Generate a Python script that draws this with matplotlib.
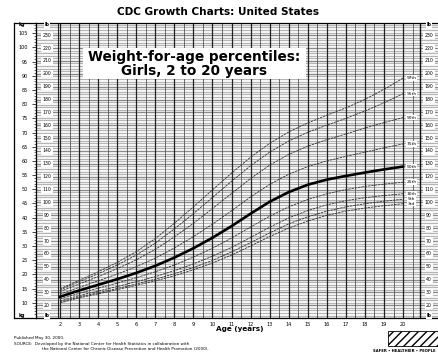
import numpy as np
import matplotlib
matplotlib.use('Agg')
import matplotlib.pyplot as plt
from matplotlib.patches import Rectangle

# CDC weight-for-age, girls 2 to 20 years (kg)
ages = [2, 3, 4, 5, 6, 7, 8, 9, 10, 11, 12, 13, 14, 15, 16, 17, 18, 19, 20]
p3 = [9.9, 11.7, 13.1, 14.6, 16.1, 17.7, 19.5, 21.6, 24.0, 26.8, 30.0, 33.3, 36.3, 38.8, 40.8, 42.3, 43.4, 44.2, 44.9]
p5 = [10.2, 12.0, 13.5, 15.0, 16.6, 18.3, 20.2, 22.4, 24.9, 27.9, 31.2, 34.6, 37.8, 40.3, 42.3, 43.8, 44.9, 45.8, 46.5]
p10 = [10.6, 12.5, 14.1, 15.7, 17.4, 19.2, 21.3, 23.7, 26.4, 29.5, 33.0, 36.6, 39.9, 42.5, 44.5, 46.0, 47.0, 47.8, 48.4]
p25 = [11.3, 13.3, 15.1, 16.9, 18.8, 20.9, 23.3, 26.1, 29.2, 32.8, 36.7, 40.5, 43.8, 46.4, 48.4, 49.9, 51.0, 51.8, 52.5]
p50 = [12.1, 14.3, 16.3, 18.3, 20.5, 23.0, 25.9, 29.2, 32.9, 37.0, 41.4, 45.6, 49.0, 51.6, 53.4, 54.7, 55.9, 57.0, 58.0]
p75 = [13.0, 15.4, 17.7, 20.1, 22.7, 25.7, 29.3, 33.3, 37.7, 42.4, 47.3, 51.7, 55.3, 58.0, 60.0, 61.6, 63.1, 64.6, 66.0]
p90 = [13.9, 16.6, 19.2, 22.0, 25.1, 28.8, 33.2, 38.0, 43.2, 48.5, 53.8, 58.5, 62.3, 65.2, 67.5, 69.5, 71.6, 73.5, 75.3]
p95 = [14.5, 17.4, 20.2, 23.3, 26.8, 31.0, 36.0, 41.4, 47.1, 52.8, 58.3, 63.1, 67.0, 70.1, 72.6, 75.0, 77.6, 80.5, 83.7]
p97 = [14.9, 17.9, 20.9, 24.2, 28.0, 32.6, 38.0, 43.8, 49.8, 55.7, 61.3, 66.2, 70.2, 73.4, 76.1, 78.7, 81.7, 85.2, 89.2]
curve_names = ['3rd', '5th', '10th', '25th', '50th', '75th', '90th', '95th', '97th']
curves = [p3, p5, p10, p25, p50, p75, p90, p95, p97]

kg_ticks = list(range(10, 110, 5))
lb_ticks = list(range(20, 240, 10))
KG_PER_LB = 0.45359

W, H = 438, 356
fig = plt.figure(figsize=(W / 100, H / 100), dpi=100)


def fx(px):
    return px / W


def fy(py):
    return 1 - py / H


# main grid axes, pixel layout
left_px, right_px, top_px, bot_px = 36, 445, 22.7, 318
ax = fig.add_axes([fx(left_px), fy(bot_px), fx(right_px - left_px), (bot_px - top_px) / H])
px_per_year = 19.06
x0 = 2 + (left_px - 60) / px_per_year
x1 = 2 + (right_px - 60) / px_per_year
px_per_kg = 2.836
y0 = 10 - (bot_px - 302.7) / px_per_kg
y1 = 10 + (302.7 - top_px) / px_per_kg
ax.set_xlim(x0, x1)
ax.set_ylim(y0, y1)
x_edge = 2 + (420 - 60) / px_per_year
x_lbcol = 2 + (58 - 60) / px_per_year
x_rlab = 2 + (429 - 60) / px_per_year

# horizontal stripes every 2 lb
for lb in np.arange(10, 242, 2):
    kg = lb * KG_PER_LB
    if lb % 10 == 0:
        ax.axhline(kg, color='#8a8a8a', lw=1.0, zorder=1)
    else:
        ax.axhline(kg, color='#b5b5b5', lw=0.9, zorder=1)

# vertical lines every half year
for a in np.arange(2, 20.51, 0.5):
    if a % 1 == 0:
        ax.axvline(a, color='#222222', lw=0.9, zorder=2)
    else:
        ax.axvline(a, color='#555555', lw=0.6, zorder=2)
ax.axvline(x_lbcol, color='#222222', lw=0.8, zorder=2)
ax.axvline(x_edge, color='#111111', lw=1.0, zorder=2)

# percentile curves
for name, vals in zip(curve_names, curves):
    if name == '50th':
        ax.plot(ages, vals, color='black', lw=1.9, zorder=5)
    else:
        ax.plot(ages, vals, color='#333333', lw=0.6, ls=(0, (3, 1)), zorder=5)

lab_y = {'3rd': 44.9, '5th': 46.6, '10th': 48.4, '25th': 52.6}
for name, vals in zip(curve_names, curves):
    yy = lab_y.get(name, vals[-1])
    ax.text(20.45, yy, name, fontsize=3.2, ha='center', va='center', zorder=7,
            bbox=dict(boxstyle='square,pad=0.15', fc='white', ec='none'))

# lb labels left column and right column
for lb in lb_ticks:
    kg = lb * KG_PER_LB
    for xx in [(x0 + x_lbcol) / 2, x_rlab]:
        ax.text(xx, kg, str(lb), fontsize=3.3, ha='center', va='center', zorder=7,
                bbox=dict(boxstyle='square,pad=0.25', fc='white', ec='none'), clip_on=False)
for yy in [y1 - 0.8, y0 + 1.0]:
    for xx in [(x0 + x_lbcol) / 2, x_rlab]:
        ax.text(xx, yy, 'lb', fontsize=3.3, fontweight='bold', ha='center', va='center', zorder=7,
                bbox=dict(boxstyle='square,pad=0.2', fc='white', ec='none'))

# kg axis
ax.set_yticks(kg_ticks)
ax.set_yticklabels([str(k) for k in kg_ticks])
ax.set_yticks(np.arange(6, 109, 1), minor=True)
ax.tick_params(axis='y', which='major', length=3, width=0.5, pad=3, labelsize=3.5)
ax.tick_params(axis='y', which='minor', length=1.5, width=0.4)
ax.set_xticks(ages)
ax.set_xticklabels([str(a) for a in ages])
ax.set_xticks(np.arange(2, 20.6, 0.5), minor=True)
ax.tick_params(axis='x', which='both', direction='in', length=2.5, width=0.6, pad=3, labelsize=3.6)
ax.spines['right'].set_visible(False)
for s in ['left', 'top', 'bottom']:
    ax.spines[s].set_linewidth(0.9)

fig.text(fx(22), fy(24.7), 'kg', fontsize=3.3, fontweight='bold', ha='center', va='center')
fig.text(fx(22), fy(315), 'kg', fontsize=3.3, fontweight='bold', ha='center', va='center')

# outer frame left part (kg column)
fig.add_artist(plt.Line2D([fx(14), fx(14)], [fy(22.7), fy(318)], color='black', lw=0.9))
fig.add_artist(plt.Line2D([fx(14), fx(36)], [fy(22.7), fy(22.7)], color='black', lw=0.9))
fig.add_artist(plt.Line2D([fx(14), fx(36)], [fy(318), fy(318)], color='black', lw=0.9))

# title box
fig.add_artist(Rectangle((fx(83), fy(79)), fx(306 - 83), (79 - 48) / H, fc='white', ec='none', zorder=8))
fig.text(fx(194), fy(57), 'Weight-for-age percentiles:', fontsize=9.8, fontweight='heavy',
         ha='center', va='center', zorder=9)
fig.text(fx(194), fy(71), 'Girls, 2 to 20 years', fontsize=9.8, fontweight='heavy',
         ha='center', va='center', zorder=9)

fig.text(fx(218), fy(12), 'CDC Growth Charts: United States', fontsize=7.6, fontweight='bold',
         ha='center', va='center')
fig.text(fx(240), fy(329), 'Age (years)', fontsize=5.2, fontweight='bold', ha='center', va='center')

fig.text(fx(14), fy(338), 'Published May 30, 2000.', fontsize=3.0, ha='left', va='center')
fig.text(fx(14), fy(343.5), 'SOURCE:  Developed by the National Center for Health Statistics in collaboration with',
         fontsize=3.0, ha='left', va='center')
fig.text(fx(42), fy(349), 'the National Center for Chronic Disease Prevention and Health Promotion (2000).',
         fontsize=3.0, ha='left', va='center')

# logo area, bottom right
fig.add_artist(Rectangle((fx(388), fy(346)), fx(50), 15 / H, fc='white', ec='black', lw=0.6,
                         hatch='////', zorder=3))
fig.text(fx(436), fy(351), 'SAFER \u2022 HEALTHIER \u2022 PEOPLE', fontsize=2.7, fontweight='bold',
         ha='right', va='center')

fig.savefig('out.png', dpi=100)
